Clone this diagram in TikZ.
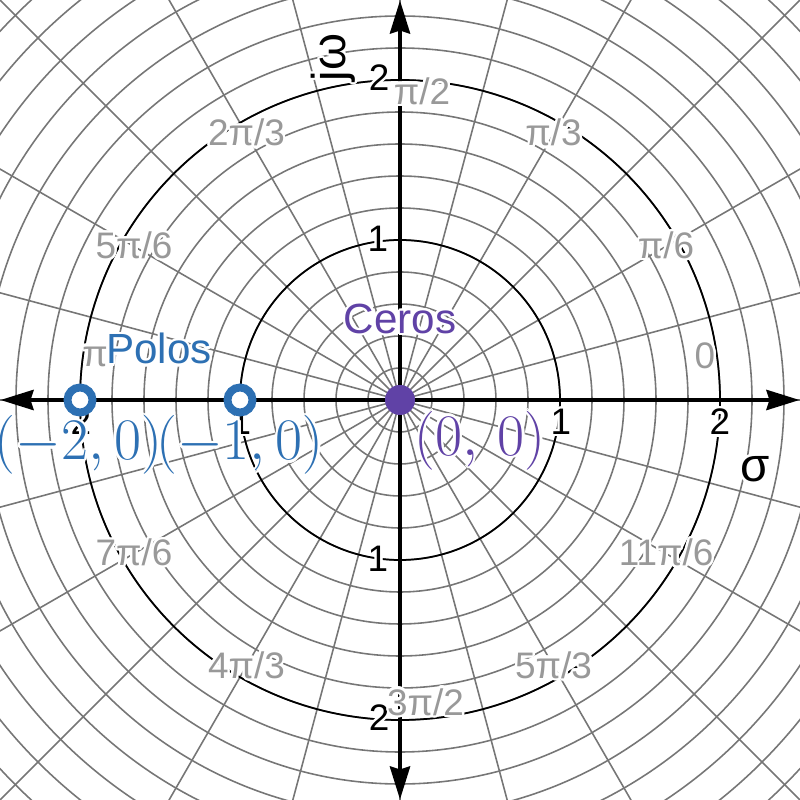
\documentclass[tikz,border=0pt]{standalone}
\usepackage{fix-cm}
\usepackage{fontspec}
\usepackage[copies]{contour}
\usetikzlibrary{arrows.meta}
\newfontfamily\arialfont{Liberation Sans}
\definecolor{poleblue}{RGB}{45,112,179}
\definecolor{zeropurple}{RGB}{96,66,166}
\definecolor{gridgray}{RGB}{118,118,118}
\definecolor{labelgray}{RGB}{153,153,153}
\contourlength{1.3pt}

\begin{document}
\begin{tikzpicture}[
    x=3.2cm, y=3.2cm,
    minor/.style={gridgray, line width=0.9pt},
    major/.style={black, line width=1pt},
    axis/.style={black, line width=2.4pt,
                 {Stealth[length=0.66cm, width=0.4cm, inset=0.06cm]}-{Stealth[length=0.66cm, width=0.4cm, inset=0.06cm]}},
    ticklab/.style={font=\arialfont\fontsize{21}{21}\selectfont, text=black, inner sep=0pt},
    anglab/.style={font=\arialfont\fontsize{21}{21}\selectfont, text=labelgray, inner sep=0pt},
    axislab/.style={font=\arialfont\fontsize{27}{27}\selectfont, text=black, inner sep=0pt},
    grouplab/.style={font=\arialfont\fontsize{24}{24}\selectfont, inner sep=0pt},
    ptlab/.style={font=\fontsize{33.5}{33.5}\selectfont, inner sep=0pt},
    pole/.style={circle, draw=poleblue, fill=white, line width=4.5pt,
                 minimum size=0.5cm, inner sep=0pt},
    zero/.style={circle, fill=zeropurple, minimum size=0.6cm, inner sep=0pt}
]
\useasboundingbox (-2.5,-2.5) rectangle (2.5,2.5);

% Rejilla polar
\begin{scope}
\clip (-2.5,-2.5) rectangle (2.5,2.5);
\foreach \i in {1,...,18}
    \draw[minor] (0,0) circle[radius=\i*0.2];
\foreach \a in {0,15,...,345}
    \draw[minor] (0,0) -- (\a:3.6);
\draw[major] (0,0) circle[radius=1];
\draw[major] (0,0) circle[radius=2];
\end{scope}

% Ejes
\coordinate (xl) at (-2.497,0);
\coordinate (xr) at (2.497,0);
\coordinate (yb) at (0,-2.497);
\coordinate (yt) at (0,2.497);
\draw[axis] (xl) -- (xr);
\draw[axis] (yb) -- (yt);

% Nombres de los ejes
\node[axislab] (sigma) at (2.22,-0.44) {\contour{white}{σ}};
\node[axislab, rotate=90] (jomega) at (-0.41,2.14) {\contour{white}{jω}};

% Marcas de los ejes
\node[ticklab] (tx1)  at (1.006,-0.144)  {\contour{white}{1}};
\node[ticklab] (tx2)  at (2.0,-0.144)    {\contour{white}{2}};
\node[ticklab] (txm1) at (-0.994,-0.144) {\contour{white}{1}};
\node[ticklab] (txm2) at (-1.994,-0.144) {\contour{white}{2}};
\node[ticklab] (ty1)  at (-0.1375,1.0)   {\contour{white}{1}};
\node[ticklab] (ty2)  at (-0.13,2.01)    {\contour{white}{2}};
\node[ticklab] (tym1) at (-0.1375,-1.0)  {\contour{white}{1}};
\node[ticklab] (tym2) at (-0.13,-1.99)   {\contour{white}{2}};

% Angulos
\foreach \a/\t/\n in {30/{π/6}/a30, 60/{π/3}/a60, 120/{2π/3}/a120, 150/{5π/6}/a150,
                      210/{7π/6}/a210, 240/{4π/3}/a240, 300/{5π/3}/a300, 330/{11π/6}/a330}
    \node[anglab] (\n) at (\a:1.92) {\contour{white}{\t}};
\node[anglab] (a0)   at (1.906,0.27)   {\contour{white}{0}};
\node[anglab] (a90)  at (0.1375,1.925) {\contour{white}{π/2}};
\node[anglab] (a180) at (-1.906,0.265) {\contour{white}{π}};
\node[anglab] (a270) at (0.16,-1.894)  {\contour{white}{3π/2}};

% Polos y ceros
\node[pole] (p2) at (-2,0) {};
\node[pole] (p1) at (-1,0) {};
\node[zero] (z0) at (0,0) {};

\node[grouplab, text=poleblue] (polos) at (-1.506,0.3125) {\contour{white}{Polos}};
\node[grouplab, text=zeropurple] (ceros) at (0,0.5) {\contour{white}{Ceros}};

\node[ptlab, text=poleblue] (lp2) at (-2.01,-0.29) {\contour{white}{$(-2,0)$}};
\node[ptlab, text=poleblue] (lp1) at (-1,-0.29) {\contour{white}{$(-1,0)$}};
\node[ptlab, text=zeropurple] (lz0) at (0.5,-0.26) {\contour{white}{$(0,\,0)$}};

\end{tikzpicture}
\end{document}
